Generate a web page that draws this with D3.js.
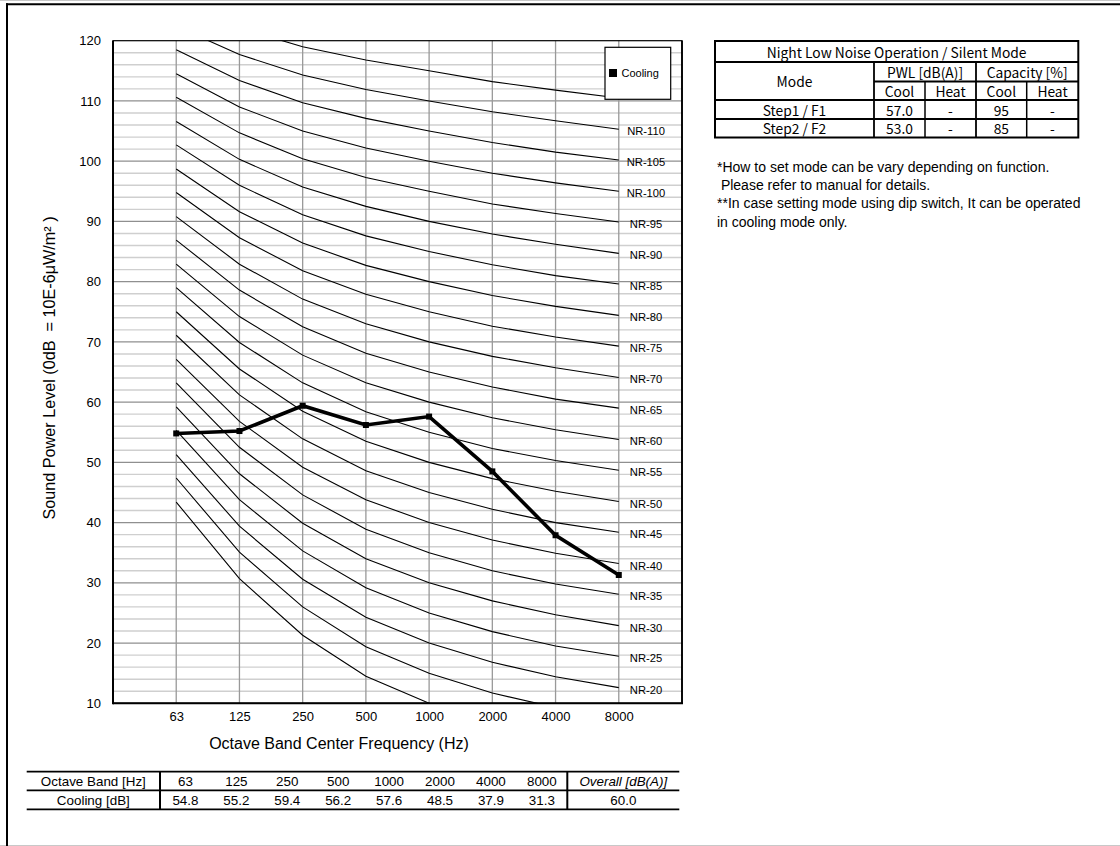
<!DOCTYPE html>
<html>
<head>
<meta charset="utf-8">
<script src="https://cdn.jsdelivr.net/npm/d3@7/dist/d3.min.js"></script>
<style>
  body { margin: 0; background: #fff; }
  svg { display: block; font-family: Arial, "Liberation Sans", sans-serif; }
  text { white-space: pre; }
</style>
</head>
<body>
<svg id="chart" width="1120" height="846"></svg>
<script>
// Octave band centre frequencies
const bands = ["63", "125", "250", "500", "1000", "2000", "4000", "8000"];
// Measured sound power, cooling [dB]
const coolingDb = [54.8, 55.2, 59.4, 56.2, 57.6, 48.5, 37.9, 31.3];
const overallDbA = "60.0";

// Y axis ticks
const yMajorTicks = [10, 20, 30, 40, 50, 60, 70, 80, 90, 100, 110, 120];
const yMinorTicks = d3.range(12, 120, 2).filter(v => v % 10 !== 0);

// Noise-rating reference curves (level per octave band)
const nrLevels = [10, 15, 20, 25, 30, 35, 40, 45, 50, 55, 60, 65, 70, 75, 80, 85, 90, 95, 100, 105, 110, 115];
const nrCurves = [
  [43.4, 30.7, 21.3, 14.5, 10, 6.7, 4.2, 2.3],
  [47.4, 35.1, 26.0, 19.4, 15, 11.7, 9.3, 7.5],
  [51.3, 39.4, 30.6, 24.3, 20, 16.8, 14.4, 12.6],
  [55.3, 43.8, 35.3, 29.2, 25, 21.9, 19.5, 17.8],
  [59.2, 48.1, 39.9, 34.0, 30, 27.0, 24.7, 22.9],
  [63.2, 52.5, 44.6, 38.9, 35, 32.0, 29.8, 28.1],
  [67.1, 56.8, 49.2, 43.8, 40, 37.1, 34.9, 33.2],
  [71.1, 61.2, 53.9, 48.6, 45, 42.2, 40.0, 38.4],
  [75.0, 65.5, 58.5, 53.5, 50, 47.3, 45.2, 43.5],
  [79.0, 69.9, 63.2, 58.4, 55, 52.3, 50.3, 48.7],
  [82.9, 74.2, 67.8, 63.2, 60, 57.4, 55.4, 53.8],
  [86.9, 78.6, 72.5, 68.1, 65, 62.5, 60.5, 59.0],
  [90.8, 82.9, 77.1, 73.0, 70, 67.6, 65.7, 64.1],
  [94.8, 87.3, 81.8, 77.9, 75, 72.6, 70.8, 69.3],
  [98.7, 91.6, 86.4, 82.7, 80, 77.7, 75.9, 74.4],
  [102.7, 96.0, 91.1, 87.6, 85, 82.8, 81.0, 79.6],
  [106.6, 100.3, 95.7, 92.5, 90, 87.9, 86.2, 84.7],
  [110.6, 104.7, 100.4, 97.3, 95, 92.9, 91.3, 89.9],
  [114.5, 109.0, 105.0, 102.2, 100, 98.0, 96.4, 95.0],
  [118.5, 113.4, 109.7, 107.1, 105, 103.1, 101.5, 100.2],
  [122.4, 117.7, 114.3, 111.9, 110, 108.2, 106.7, 105.3],
  [126.4, 122.1, 119.0, 116.8, 115, 113.2, 111.8, 110.5]
];
// Curves that carry a label at the right edge
const nrLabelLevels = [20, 25, 30, 35, 40, 45, 50, 55, 60, 65, 70, 75, 80, 85, 90, 95, 100, 105, 110];

// Silent mode table
const modeTitle = "Night Low Noise Operation / Silent Mode";
const modeHeadA = ["Mode", "PWL [dB(A)]", "Capacity [%]"];
const modeHeadB = ["Cool", "Heat", "Cool", "Heat"];
const modeRows = [
  ["Step1 / F1", "57.0", "-", "95", "-"],
  ["Step2 / F2", "53.0", "-", "85", "-"]
];
const notes = [
  "*How to set mode can be vary depending on function.",
  " Please refer to manual for details.",
  "**In case setting mode using dip switch, It can be operated",
  "in cooling mode only."
];

// Bottom table labels
const tableRowLabels = ["Octave Band [Hz]", "Cooling [dB]"];
const overallLabel = "Overall [dB(A)]";

const svg = d3.select("#chart");

// page frame
svg.append("line").attr("x1", 0).attr("x2", 1120).attr("y1", 0.5).attr("y2", 0.5).attr("stroke", "#c8c8c8");
svg.append("line").attr("x1", 0).attr("x2", 1120).attr("y1", 845.5).attr("y2", 845.5).attr("stroke", "#c8c8c8");
svg.append("line").attr("x1", 6).attr("x2", 1120).attr("y1", 4.3).attr("y2", 4.3).attr("stroke", "#000").attr("stroke-width", 2);
svg.append("line").attr("x1", 7).attr("x2", 7).attr("y1", 3.3).attr("y2", 846).attr("stroke", "#000").attr("stroke-width", 2);

// plot area
const P = { left: 113, right: 682, top: 40.7, bottom: 703.3 };
const x = d3.scalePoint().domain(bands).range([P.left, P.right]).padding(1);
const y = d3.scaleLinear().domain([10, 120]).range([P.bottom, P.top]);

const g = svg.append("g");

svg.append("defs").append("clipPath").attr("id", "plotClip")
  .append("rect").attr("x", P.left).attr("y", P.top)
  .attr("width", P.right - P.left).attr("height", P.bottom - P.top);

// grid
g.append("g").selectAll("line").data(yMinorTicks).join("line")
  .attr("x1", P.left).attr("x2", P.right)
  .attr("y1", d => y(d)).attr("y2", d => y(d))
  .attr("stroke", "#cfcfcf").attr("stroke-width", 1.4);
g.append("g").selectAll("line").data(yMajorTicks.slice(1, -1)).join("line")
  .attr("x1", P.left).attr("x2", P.right)
  .attr("y1", d => y(d)).attr("y2", d => y(d))
  .attr("stroke", "#8f8f8f").attr("stroke-width", 1.3);
g.append("g").selectAll("line").data(bands).join("line")
  .attr("x1", d => x(d)).attr("x2", d => x(d))
  .attr("y1", P.top).attr("y2", P.bottom)
  .attr("stroke", "#999").attr("stroke-width", 1.3);

// NR curves
const curveLine = d3.line().x((d, i) => x(bands[i])).y(d => y(d));
g.append("g").attr("clip-path", "url(#plotClip)")
  .selectAll("path").data(nrCurves).join("path")
  .attr("d", curveLine)
  .attr("fill", "none").attr("stroke", "#000").attr("stroke-width", 1.1);

// NR labels
g.append("g").selectAll("text").data(nrLabelLevels).join("text")
  .attr("x", 646)
  .attr("y", d => y(nrCurves[nrLevels.indexOf(d)][bands.length - 1]) + 6)
  .attr("text-anchor", "middle")
  .attr("font-size", 11.2)
  .text(d => "NR-" + d);

// cooling series
g.append("path").datum(coolingDb)
  .attr("d", curveLine)
  .attr("fill", "none").attr("stroke", "#000").attr("stroke-width", 3.6)
  .attr("stroke-linejoin", "miter");
g.append("g").selectAll("rect").data(coolingDb).join("rect")
  .attr("x", (d, i) => x(bands[i]) - 3).attr("y", d => y(d) - 3)
  .attr("width", 6).attr("height", 6).attr("fill", "#000");

// plot border
g.append("rect").attr("x", P.left).attr("y", P.top)
  .attr("width", P.right - P.left).attr("height", P.bottom - P.top)
  .attr("fill", "none").attr("stroke", "#000").attr("stroke-width", 1.2);
g.append("line").attr("x1", P.left).attr("x2", P.left).attr("y1", P.top).attr("y2", P.bottom + 1)
  .attr("stroke", "#000").attr("stroke-width", 2);
g.append("line").attr("x1", P.left).attr("x2", P.right + 1).attr("y1", P.bottom).attr("y2", P.bottom)
  .attr("stroke", "#000").attr("stroke-width", 2);
g.append("line").attr("x1", P.right).attr("x2", P.right).attr("y1", P.top).attr("y2", P.bottom)
  .attr("stroke", "#000").attr("stroke-width", 1.8);

// axes (labels only)
const yAxis = d3.axisLeft(y).tickValues(yMajorTicks).tickSize(0).tickPadding(12);
const yG = svg.append("g").attr("transform", `translate(${P.left},0)`).call(yAxis);
yG.select(".domain").remove();
yG.selectAll("text").attr("font-size", 13).attr("font-family", "Arial, 'Liberation Sans', sans-serif").attr("fill", "#000");

const xAxis = d3.axisBottom(x).tickSize(0).tickPadding(8);
const xG = svg.append("g").attr("transform", `translate(0,${P.bottom})`).call(xAxis);
xG.select(".domain").remove();
xG.selectAll("text").attr("font-size", 13).attr("font-family", "Arial, 'Liberation Sans', sans-serif").attr("fill", "#000");

// axis titles
svg.append("text").attr("x", 339).attr("y", 749).attr("text-anchor", "middle")
  .attr("font-size", 16).text("Octave Band Center Frequency (Hz)");
svg.append("text").attr("transform", "translate(55,368) rotate(-90)")
  .attr("text-anchor", "middle").attr("font-size", 16.2)
  .text("Sound Power Level (0dB  = 10E-6μW/m² )");

// legend
const lg = svg.append("g");
lg.append("rect").attr("x", 605).attr("y", 47.3).attr("width", 65.7).attr("height", 52)
  .attr("fill", "#fff").attr("stroke", "#000").attr("stroke-width", 1.2);
lg.append("rect").attr("x", 609).attr("y", 69).attr("width", 8).attr("height", 8).attr("fill", "#000");
lg.append("text").attr("x", 621.5).attr("y", 77).attr("font-size", 11).text("Cooling");

// bottom data table
const bt = svg.append("g");
const btLeft = 26.7, btDiv = 160, btOverall = 567.3, btRight = 679.3;
const btRows = [771.7, 790.3, 809.3];
const colW = (btOverall - btDiv) / bands.length;
btRows.forEach(r => bt.append("line").attr("x1", btLeft).attr("x2", btRight)
  .attr("y1", r).attr("y2", r).attr("stroke", "#000").attr("stroke-width", 1.8));
[btDiv, btOverall].forEach(c => bt.append("line").attr("x1", c).attr("x2", c)
  .attr("y1", btRows[0]).attr("y2", btRows[2]).attr("stroke", "#000").attr("stroke-width", 2));
const btFont = 13.4;
tableRowLabels.forEach((t, i) => bt.append("text")
  .attr("x", (btLeft + btDiv) / 2).attr("y", btRows[i] + 14.3)
  .attr("text-anchor", "middle").attr("font-size", btFont).text(t));
bands.forEach((b, i) => {
  const cx = btDiv + colW * (i + 0.5);
  bt.append("text").attr("x", cx).attr("y", btRows[0] + 14.3).attr("text-anchor", "middle")
    .attr("font-size", btFont).text(b);
  bt.append("text").attr("x", cx).attr("y", btRows[1] + 14.3).attr("text-anchor", "middle")
    .attr("font-size", btFont).text(d3.format(".1f")(coolingDb[i]));
});
bt.append("text").attr("x", (btOverall + btRight) / 2).attr("y", btRows[0] + 14.3)
  .attr("text-anchor", "middle").attr("font-size", btFont).attr("font-style", "italic").text(overallLabel);
bt.append("text").attr("x", (btOverall + btRight) / 2).attr("y", btRows[1] + 14.3)
  .attr("text-anchor", "middle").attr("font-size", btFont).text(overallDbA);

// silent mode table
const mt = svg.append("g").attr("font-family", "'Noto Sans CJK KR', 'Noto Sans', sans-serif");
const mc = [715, 874, 925, 976, 1026.7, 1078.3];
const mr = [41, 62, 81.5, 100, 119, 137.5];
const mFont = 13.8;
const hl = (x1, x2, yy, w) => mt.append("line").attr("x1", x1).attr("x2", x2).attr("y1", yy).attr("y2", yy)
  .attr("stroke", "#000").attr("stroke-width", w);
const vl = (xx, y1, y2, w) => mt.append("line").attr("x1", xx).attr("x2", xx).attr("y1", y1).attr("y2", y2)
  .attr("stroke", "#000").attr("stroke-width", w);
mt.append("rect").attr("x", mc[0]).attr("y", mr[0]).attr("width", mc[5] - mc[0]).attr("height", mr[5] - mr[0])
  .attr("fill", "none").attr("stroke", "#000").attr("stroke-width", 2);
hl(mc[0], mc[5], mr[1], 1.8);
hl(mc[1], mc[5], mr[2], 1.8);
hl(mc[0], mc[5], mr[3], 1.8);
hl(mc[0], mc[5], mr[4], 1.8);
vl(mc[1], mr[1], mr[5], 1.8);
vl(mc[3], mr[1], mr[5], 1.8);
vl(mc[2], mr[2], mr[5], 1.5);
vl(mc[4], mr[2], mr[5], 1.5);
const cellText = (t, x1, x2, y1, y2) => mt.append("text")
  .attr("x", (x1 + x2) / 2).attr("y", (y1 + y2) / 2)
  .attr("dominant-baseline", "central").attr("text-anchor", "middle")
  .attr("font-size", mFont).text(t);
cellText(modeTitle, mc[0], mc[5], mr[0], mr[1]);
cellText(modeHeadA[0], mc[0], mc[1], mr[1], mr[3]);
cellText(modeHeadA[1], mc[1], mc[3], mr[1], mr[2]);
cellText(modeHeadA[2], mc[3], mc[5], mr[1], mr[2]);
modeHeadB.forEach((t, i) => cellText(t, mc[i + 1], mc[i + 2], mr[2], mr[3]));
modeRows.forEach((row, r) => row.forEach((t, i) => cellText(t, mc[i], mc[i + 1], mr[3 + r], mr[4 + r])));

// notes
svg.append("g").selectAll("text").data(notes).join("text")
  .attr("x", 717).attr("y", (d, i) => [171.7, 189.5, 208.3, 226.7][i])
  .attr("font-size", 14).text(d => d);
</script>
</body>
</html>
